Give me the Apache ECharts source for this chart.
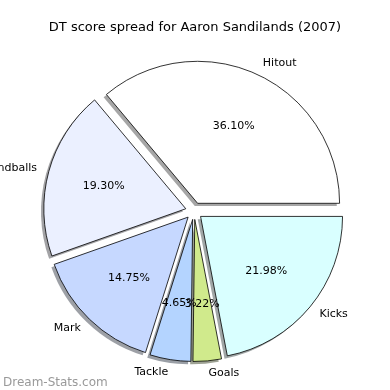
<!DOCTYPE html>
<html>
<head>
<meta charset="utf-8">
<script src="https://cdn.jsdelivr.net/npm/echarts@6/dist/echarts.min.js"></script>
<style>html,body{margin:0;padding:0;background:#fff}#c{width:390px;height:390px}</style>
</head>
<body>
<div id="c"></div>
<script>
var categories = ['Hitout', 'Handballs', 'Mark', 'Tackle', 'Goals', 'Kicks'];
var percents = [36.10, 19.30, 14.75, 4.65, 3.22, 21.98];
var colors = ['#ffffff', '#ebf0ff', '#c6d8ff', '#b4d4ff', '#d0ea8c', '#d9ffff'];
var titleText = 'DT score spread for Aaron Sandilands (2007)';
var watermark = 'Dream-Stats.com';

var R = 142, CX = 194, CY = 211, OFF = 8.5, SH = 2.8;
var FONT = 'DejaVu Sans';

function shadowColor(hex) {
  var r = parseInt(hex.substr(1, 2), 16), g = parseInt(hex.substr(3, 2), 16), b = parseInt(hex.substr(5, 2), 16);
  return 'rgba(' + Math.round(r * 0.3) + ',' + Math.round(g * 0.3) + ',' + Math.round(b * 0.3) + ',0.5)';
}

function makeData(kind) {
  return categories.map(function (name, i) {
    var item = { name: name, value: percents[i], selected: true };
    if (kind === 'shadow') item.itemStyle = { color: shadowColor(colors[i]), borderWidth: 0 };
    else if (kind === 'main') item.itemStyle = { color: colors[i], borderColor: '#000', borderWidth: 0.8 };
    else item.itemStyle = { color: 'rgba(0,0,0,0)', borderWidth: 0 };
    return item;
  });
}

var common = {
  type: 'pie',
  startAngle: 0,
  clockwise: false,
  selectedMode: 'multiple',
  selectedOffset: OFF,
  avoidLabelOverlap: false,
  animation: false,
  silent: true,
  emphasis: { disabled: true },
  labelLayout: { hideOverlap: false },
  labelLine: { show: false }
};

var chart = echarts.init(document.getElementById('c'), null, { renderer: 'canvas' });
chart.setOption({
  backgroundColor: '#fff',
  animation: false,
  title: [
    { text: titleText, left: 'center', top: 16, textStyle: { fontFamily: FONT, fontSize: 13, fontWeight: 'normal', color: '#000' } },
    { text: watermark, left: -2, top: 372, textStyle: { fontFamily: FONT, fontSize: 12, fontWeight: 'normal', color: '#999' } }
  ],
  series: [
    Object.assign({}, common, {
      name: 'shadow', z: 1,
      center: [CX - SH, CY + SH], radius: [0, R],
      label: { show: false },
      data: makeData('shadow')
    }),
    Object.assign({}, common, {
      name: 'main', z: 2,
      center: [CX, CY], radius: [0, R],
      label: { show: true, position: 'outside', fontFamily: FONT, fontSize: 11, color: '#000', distanceToLabelLine: 0, formatter: '{b}' },
      labelLine: { show: false, length: R * 0.1 - 2, length2: 0 },
      data: makeData('main')
    }),
    Object.assign({}, common, {
      name: 'pct', z: 3,
      center: [CX, CY], radius: [R * 0.2 - 6, R],
      minShowLabelAngle: 0,
      label: { show: true, position: 'inside', fontFamily: FONT, fontSize: 11, color: '#000', textBorderWidth: 0, overflow: 'none',
        formatter: function (p) { return p.value.toFixed(2) + '%'; } },
      data: makeData('pct')
    })
  ]
});
</script>
</body>
</html>
